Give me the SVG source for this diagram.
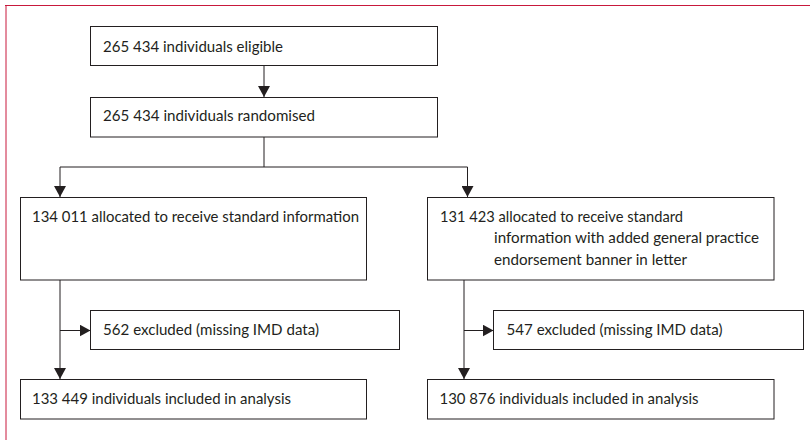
<svg xmlns="http://www.w3.org/2000/svg" width="810" height="440" viewBox="0 0 810 440">
<style>
.box{fill:#fff;stroke:#231f20;stroke-width:1}
.t{font-family:Lato,"Liberation Sans",Arial,sans-serif;font-size:16px;fill:#231f20}
.c{fill:none;stroke:#231f20;stroke-width:1}
</style>
<defs>
<marker id="ah" viewBox="0 0 11 12" refX="11" refY="6" markerWidth="11" markerHeight="12" markerUnits="userSpaceOnUse" orient="auto">
<path d="M0,0 L11,6 L0,12 Z" fill="#231f20"/>
</marker>
</defs>
<rect width="810" height="440" fill="#fff"/>
<line x1="5" y1="5.5" x2="810" y2="5.5" stroke="#c8193c" stroke-width="1"/>
<line x1="6" y1="5" x2="6" y2="440" stroke="#c8193c" stroke-width="1"/>
<g id="connectors">
<line class="c" x1="264" y1="65.5" x2="264" y2="97" marker-end="url(#ah)"/>
<polyline class="c" points="264,137 264,167 60,167 60,197" marker-end="url(#ah)"/>
<polyline class="c" points="264,167 467.5,167 467.5,197" marker-end="url(#ah)"/>
<line class="c" x1="60" y1="280" x2="60" y2="379" marker-end="url(#ah)"/>
<line class="c" x1="60" y1="330.5" x2="90.5" y2="330.5" marker-end="url(#ah)"/>
<line class="c" x1="464" y1="280" x2="464" y2="379" marker-end="url(#ah)"/>
<line class="c" x1="464" y1="330.5" x2="493.5" y2="330.5" marker-end="url(#ah)"/>
</g>
<g id="eligible">
<rect class="box" x="90.5" y="26.5" width="347" height="39"/>
<text class="t" x="103" y="51.5" textLength="180" lengthAdjust="spacingAndGlyphs">265 434 individuals eligible</text>
</g>
<g id="randomised">
<rect class="box" x="90.5" y="97.5" width="347" height="39.5"/>
<text class="t" x="103" y="121" textLength="212" lengthAdjust="spacingAndGlyphs">265 434 individuals randomised</text>
</g>
<g id="standard">
<rect class="box" x="20.5" y="197.5" width="346" height="82.5"/>
<text class="t" x="32" y="221.5" textLength="327" lengthAdjust="spacingAndGlyphs">134 011 allocated to receive standard information</text>
</g>
<g id="endorsement">
<rect class="box" x="427.5" y="197.5" width="346.5" height="82.5"/>
<text class="t" x="440" y="221.5" textLength="243" lengthAdjust="spacingAndGlyphs">131 423 allocated to receive standard</text>
<text class="t" x="494" y="243" textLength="265" lengthAdjust="spacingAndGlyphs">information with added general practice</text>
<text class="t" x="494" y="264.5" textLength="193" lengthAdjust="spacingAndGlyphs">endorsement banner in letter</text>
</g>
<g id="excluded-left">
<rect class="box" x="90.5" y="310.5" width="309" height="39"/>
<text class="t" x="103" y="334.5" textLength="216" lengthAdjust="spacingAndGlyphs">562 excluded (missing IMD data)</text>
</g>
<g id="analysis-left">
<rect class="box" x="20.5" y="379.5" width="346" height="39.5"/>
<text class="t" x="32" y="403.5" textLength="259" lengthAdjust="spacingAndGlyphs">133 449 individuals included in analysis</text>
</g>
<g id="excluded-right">
<rect class="box" x="493.5" y="310.5" width="310" height="39"/>
<text class="t" x="506.5" y="334.5" textLength="216" lengthAdjust="spacingAndGlyphs">547 excluded (missing IMD data)</text>
</g>
<g id="analysis-right">
<rect class="box" x="427.5" y="379.5" width="346.5" height="39.5"/>
<text class="t" x="439.5" y="403.5" textLength="259" lengthAdjust="spacingAndGlyphs">130 876 individuals included in analysis</text>
</g>
</svg>
